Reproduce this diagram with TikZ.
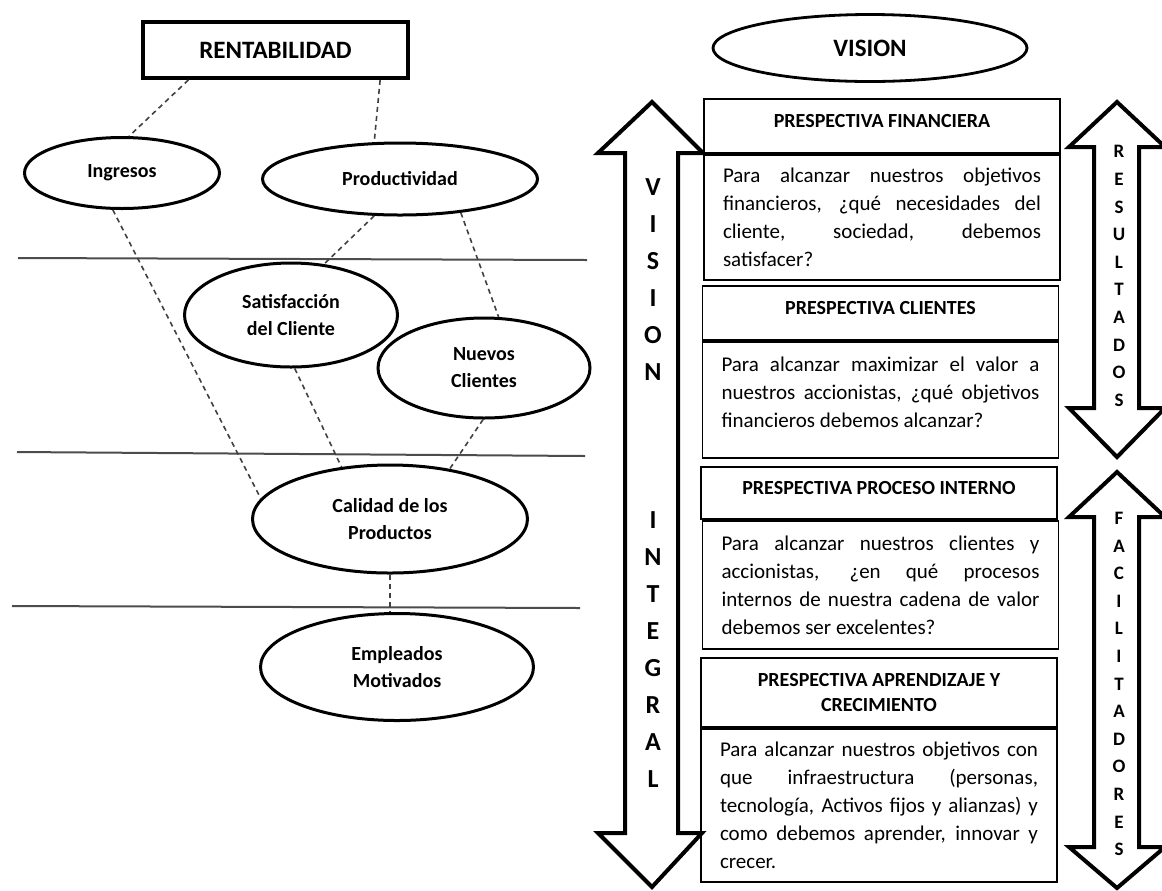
\documentclass[tikz,border=0pt]{standalone}
\usepackage{fontspec}
\setmainfont{Carlito}
\usetikzlibrary{shapes.geometric}
\tolerance=9999
\hyphenpenalty=10000

\begin{document}
\begin{tikzpicture}[x=0.5pt,y=-0.5pt,
  oval/.style={ellipse,draw,line width=1.5pt,inner sep=0pt,align=center,font=\fontsize{10}{13.5}\selectfont\bfseries},
  link/.style={dash pattern=on 2.5pt off 2pt,line width=0.8pt,black!75},
  band/.style={line width=1pt,black!70},
  headbox/.style={draw,line width=0.9pt,minimum width=178pt,align=center,font=\fontsize{10}{12.5}\selectfont\bfseries},
  oneline/.style={text height=6.5pt,text depth=4.6pt},
  bodybox/.style={draw,line width=0.9pt,text width=159pt,inner xsep=9.5pt,align=justify,font=\fontsize{10.5}{14}\selectfont},
  bigarrow/.style={line width=2pt,line join=miter},
  arrowtext/.style={align=center}]
\useasboundingbox (0,0) rectangle (1162,890);

\node[draw,line width=2pt,minimum width=132.5pt,minimum height=28pt,font=\fontsize{12.5}{14}\selectfont\bfseries] (rent) at (275.5,50) {RENTABILIDAD};
\node[oval,minimum width=97.5pt,minimum height=35.5pt] (ingresos) at (122,173) {\raisebox{-2.5pt}{Ingresos}};
\node[oval,minimum width=137.5pt,minimum height=36pt] (prod) at (400,179) {Productividad};
\node[oval,minimum width=106.5pt,minimum height=52pt] (satisf) at (291,315) {Satisfacción\\del Cliente};
\node[oval,minimum width=106pt,minimum height=50pt] (nuevos) at (484,368) {Nuevos\\Clientes};
\node[oval,minimum width=137.5pt,minimum height=54pt] (calidad) at (390,519) {Calidad de los\\Productos};
\node[oval,minimum width=136.5pt,minimum height=53.5pt] (empleados) at (397,667) {Empleados\\Motivados};

\draw[band] (18,258) -- (587,260);
\draw[band] (17,452) -- (585,456);
\draw[band] (12,606) -- (580,608);

\draw[link] (rent.199) -- (ingresos.79);
\draw[link] (rent.344) -- (prod.125);
\draw[link] (prod.235) -- (satisf.57);
\draw[link] (prod.331) -- (nuevos.74);
\draw[link] (ingresos.256) -- (calidad.171);
\draw[link] (satisf.274) -- (calidad.133);
\draw[link] (nuevos.269) -- (calidad.40);
\draw[link] (calidad.south) -- (calidad.south |- empleados.north);

\node[oval,line width=1.4pt,minimum width=157pt,minimum height=33.5pt,font=\fontsize{12.5}{14}\selectfont\bfseries] (vision) at (870,48) {VISION};

\draw[bigarrow] (652,102) -- (703,153) -- (678,153) -- (678,833) -- (702,833) -- (652,887) -- (598,833) -- (625,833) -- (625,153) -- (598,153) -- cycle;
\draw[bigarrow] (1117,102) -- (1165,147) -- (1139,147) -- (1139,408) -- (1165,408) -- (1117,457) -- (1069,408) -- (1094,408) -- (1094,147) -- (1069,147) -- cycle;
\draw[bigarrow] (1117,472) -- (1165,517) -- (1139,517) -- (1139,847) -- (1165,847) -- (1117,888) -- (1069,847) -- (1094,847) -- (1094,517) -- (1069,517) -- cycle;

\node[arrowtext,font=\fontsize{13}{18.5}\selectfont\bfseries] (integral) at (653,483.5) {V\\I\\S\\I\\O\\N\\[55.5pt]I\\N\\T\\E\\G\\R\\A\\L};
\node[arrowtext,font=\fontsize{9.5}{13.8}\selectfont\bfseries] (resultados) at (1119,276) {R\\E\\S\\U\\L\\T\\A\\D\\O\\S};
\node[arrowtext,font=\fontsize{9.5}{13.8}\selectfont\bfseries] (facilitadores) at (1119,684) {F\\A\\C\\I\\L\\I\\T\\A\\D\\O\\R\\E\\S};

\node[headbox,oneline,minimum height=27pt] (fin) at (882,126) {PRESPECTIVA FINANCIERA};
\node[bodybox,minimum height=62.5pt,anchor=north] (fintxt) at (fin.south) {Para alcanzar nuestros objetivos\linebreak financieros, ¿qué necesidades del\linebreak cliente, sociedad, debemos\linebreak satisfacer?};

\node[headbox,oneline,minimum height=27pt] (cli) at (880.5,313) {PRESPECTIVA CLIENTES};
\node[bodybox,minimum height=58pt,text depth=36pt,anchor=north] (clitxt) at (cli.south) {Para alcanzar maximizar el valor a\linebreak nuestros accionistas, ¿qué objetivos\linebreak financieros debemos alcanzar?};

\node[headbox,oneline,minimum height=26pt] (pro) at (879,493) {PRESPECTIVA PROCESO INTERNO};
\node[bodybox,minimum height=64pt,anchor=north] (protxt) at ([xshift=0.75pt]pro.south) {Para alcanzar nuestros clientes y\linebreak accionistas, ¿en qué procesos\linebreak internos de nuestra cadena de valor\linebreak debemos ser excelentes?};

\node[headbox,minimum height=34.5pt] (apr) at (879,692.5) {PRESPECTIVA APRENDIZAJE Y\\CRECIMIENTO};
\node[bodybox,minimum height=76.5pt,anchor=north] (aprtxt) at (apr.south) {Para alcanzar nuestros objetivos con\linebreak que infraestructura (personas,\linebreak tecnología, Activos fijos y alianzas) y\linebreak como debemos aprender, innovar y\linebreak crecer.};
\end{tikzpicture}
\end{document}
